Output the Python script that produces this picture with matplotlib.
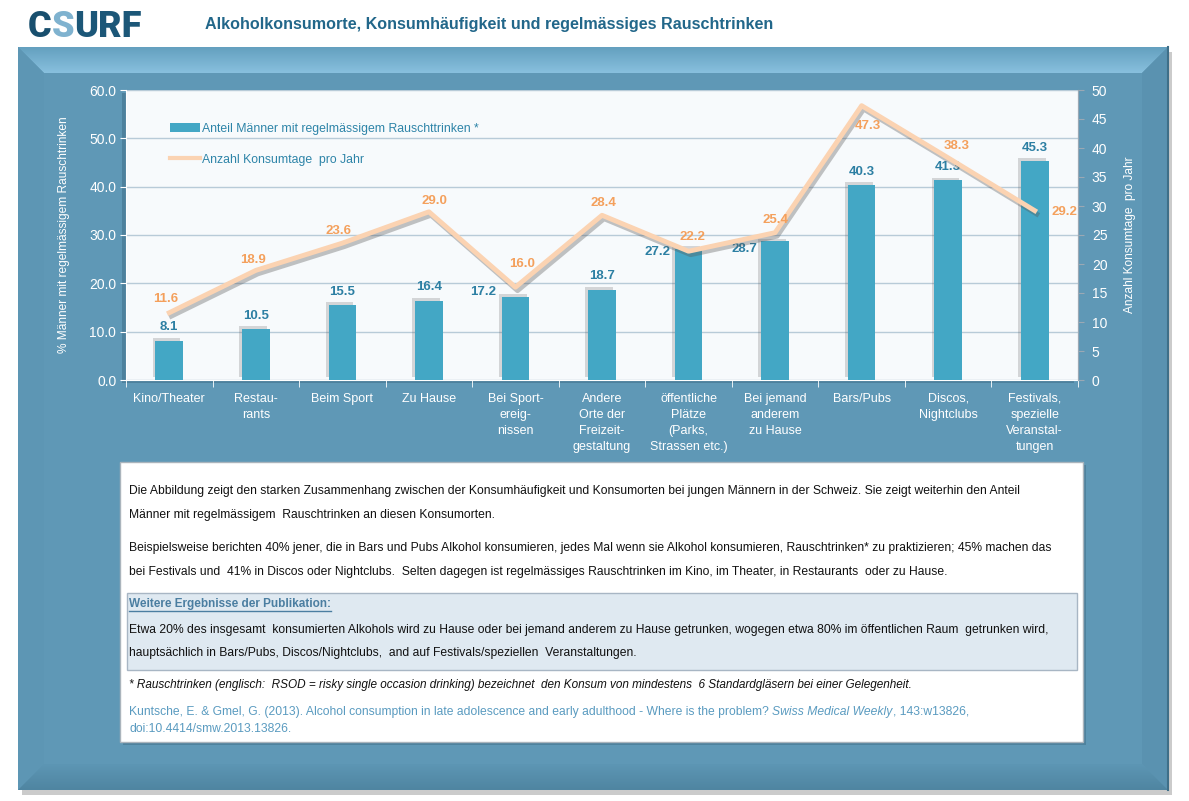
import matplotlib
matplotlib.use('Agg')
import matplotlib.pyplot as plt
import matplotlib.patheffects as pe
from matplotlib.patches import Rectangle, Polygon, Patch
from matplotlib.lines import Line2D
import numpy as np

# data
categories = ['Kino/Theater', 'Restau-\nrants', 'Beim Sport', 'Zu Hause',
              'Bei Sport-\nereig-\nnissen', 'Andere\nOrte der\nFreizeit-\ngestaltung',
              'öffentliche\nPlätze\n(Parks,\nStrassen etc.)', 'Bei jemand\nanderem\nzu Hause',
              'Bars/Pubs', 'Discos,\nNightclubs', 'Festivals,\nspezielle\nVeranstal-\ntungen']
rsod_share = [8.1, 10.5, 15.5, 16.4, 17.2, 18.7, 27.2, 28.7, 40.3, 41.3, 45.3]
days_per_year = [11.6, 18.9, 23.6, 29.0, 16.0, 28.4, 22.2, 25.4, 47.3, 38.3, 29.2]
left_ticks = [0, 10, 20, 30, 40, 50, 60]
right_ticks = [0, 5, 10, 15, 20, 25, 30, 35, 40, 45, 50]
bar_name = 'Anteil Männer mit regelmässigem Rauschttrinken *'
line_name = 'Anzahl Konsumtage  pro Jahr'

# label offsets in pixels (dx, dy up), alignment
bar_lab_off = [(0, 14, 'center'), (0, 13, 'center'), (0, 13, 'center'), (0, 14, 'center'),
               (-19, 5, 'right'), (0, 14, 'center'), (-18, -3, 'right'), (-18, -8, 'right'),
               (0, 13, 'center'), (0, 13, 'center'), (0, 13, 'center')]
line_lab_off = [(-4, 14), (-3, 10), (-4, 12), (6, 11), (7, 23), (1, 12), (4, 14),
                (0, 13), (6, -20), (8, 12), (30, -1)]

FONT = ['Liberation Sans', 'DejaVu Sans']
plt.rcParams['font.family'] = FONT

W, H = 1189, 801
fig = plt.figure(figsize=(W / 100, H / 100), dpi=100)
fig.patch.set_facecolor('white')

bg = fig.add_axes([0, 0, 1, 1])
bg.set_xlim(0, W)
bg.set_ylim(H, 0)
bg.axis('off')


def frac(x0, y0, x1, y1):
    return [x0 / W, 1 - y1 / H, (x1 - x0) / W, (y1 - y0) / H]


# ── blue bevelled frame ─────────────────────────────────────────
L, T, R, B, bw = 18, 47, 1168, 790, 26
bg.add_patch(Rectangle((L + 4, T + 5), R - L, B - T, fc='#8c8c8c', alpha=0.45, lw=0))
bg.add_patch(Rectangle((L, T), R - L, B - T, fc='#5f98b6', lw=0))
top = Polygon([(L, T), (R, T), (R - bw, T + bw), (L + bw, T + bw)], closed=True, fc='none', lw=0)
bg.add_patch(top)
grad = np.linspace(0, 1, 64).reshape(-1, 1)
im = bg.imshow(grad, extent=(L, R, T + bw, T), cmap=matplotlib.colors.LinearSegmentedColormap.from_list(
    'bev', ['#64a0bf', '#88c0de']), aspect='auto', zorder=1)
im.set_clip_path(top)
bg.add_patch(Polygon([(L, T), (L + bw, T + bw), (L + bw, B - bw), (L, B)], fc='#5d96b4', lw=0, zorder=1))
bg.add_patch(Polygon([(R, T), (R, B), (R - bw, B - bw), (R - bw, T + bw)], fc='#5a92b0', lw=0, zorder=1))
bot = Polygon([(L, B), (L + bw, B - bw), (R - bw, B - bw), (R, B)], fc='none', lw=0)
bg.add_patch(bot)
im2 = bg.imshow(grad, extent=(L, R, B, B - bw), cmap=matplotlib.colors.LinearSegmentedColormap.from_list(
    'bev2', ['#5d96b4', '#4f85a1']), aspect='auto', zorder=1)
im2.set_clip_path(bot)
bg.plot([R, R], [T, B], color='#3f6f88', lw=1.5, zorder=2)

# plot-area shadow
bg.add_patch(Rectangle((122, 93), 952, 290, fc='#3d6c85', alpha=0.5, lw=0, zorder=2))

# ── logo + title ────────────────────────────────────────────────
fig.canvas.draw()
rend = fig.canvas.get_renderer()
inv = bg.transData.inverted()


def runs(x, y, parts, **kw):
    for txt, style in parts:
        st = dict(kw)
        st.update(style)
        t = bg.text(x, y, txt, **st)
        bb = t.get_window_extent(rend)
        x = inv.transform((bb.x1, bb.y0))[0]
    return x


runs(28, 27, [('C', {'color': '#184f6e'}), ('S', {'color': '#7fb2cf'}), ('URF', {'color': '#1c5778'})],
     fontsize=26, fontweight='heavy', family=['Roboto', 'DejaVu Sans'], va='center', zorder=3)
bg.text(205, 25, 'Alkoholkonsumorte, Konsumhäufigkeit und regelmässiges Rauschtrinken',
        fontsize=11.6, fontweight='bold', color='#22678a', va='center')

# ── chart ───────────────────────────────────────────────────────
ax = fig.add_axes(frac(126, 90, 1078, 380))
ax.set_facecolor('#f7fafc')
x = np.arange(len(categories))
bars = ax.bar(x, rsod_share, width=0.32, color='#43a7c5', zorder=3,
              path_effects=[pe.SimplePatchShadow(offset=(-2, 2), shadow_rgbFace='#555555', alpha=0.22),
                            pe.Normal()])
ax.set_xlim(-0.5, len(categories) - 0.5)
ax.set_ylim(0, 60)
ax.set_yticks(left_ticks)
ax.set_yticklabels([f'{v:.1f}' for v in left_ticks])
ax.yaxis.grid(True, color='#b8cbd8', lw=1)
ax.set_axisbelow(True)
ax.set_xticks(x)
ax.set_xticklabels(categories, linespacing=1.45)
ax.set_xticks(np.arange(-0.5, len(categories), 1), minor=True)
ax.tick_params(axis='x', which='major', length=0, pad=9, colors='white', labelsize=9)
ax.tick_params(axis='x', which='minor', length=5, color='white', direction='out')
ax.tick_params(axis='y', length=4, color='white', labelcolor='white', labelsize=10, pad=3)
ax.spines['top'].set_visible(False)
ax.spines['left'].set_color('white')
ax.spines['bottom'].set_color('white')
ax.spines['right'].set_color('#9aa8b4')
ax.set_ylabel('% Männer mit regelmässigem Rauschtrinken', color='white', fontsize=8.6, labelpad=14)

ax2 = ax.twinx()
ax2.set_ylim(0, 50)
ax2.set_yticks(right_ticks)
ax2.tick_params(axis='y', length=4, color='#9aa8b4', labelcolor='white', labelsize=10, pad=6)
for s in ['top', 'left', 'bottom']:
    ax2.spines[s].set_visible(False)
ax2.spines['right'].set_color('#9aa8b4')
ax2.plot(x, days_per_year, color='#fbd3b2', lw=3.5, zorder=4,
         path_effects=[pe.SimpleLineShadow(offset=(1.5, -2.5), shadow_color='#555555', alpha=0.35),
                       pe.Normal()])
ax2.set_ylabel(line_name, color='white', fontsize=8.6, labelpad=12)

px = 0.72  # points per pixel
for xi, v, (dx, dy, ha) in zip(x, rsod_share, bar_lab_off):
    ax.annotate(f'{v:.1f}', (xi, v), xytext=(dx * px, dy * px), textcoords='offset points',
                ha=ha, va='center', fontsize=9.5, fontweight='bold', color='#2c7fa3', zorder=6)
for xi, v, (dx, dy) in zip(x, days_per_year, line_lab_off):
    ax2.annotate(f'{v:.1f}', (xi, v), xytext=(dx * px, dy * px), textcoords='offset points',
                 ha='center', va='center', fontsize=9.5, fontweight='bold', color='#f4a05c', zorder=6)

h_bar = Patch(facecolor='#43a7c5', edgecolor='none')
h_line = Line2D([], [], color='#fbd3b2', lw=3)
leg = ax2.legend([h_bar, h_line], [bar_name, line_name], loc='upper left',
                 bbox_to_anchor=(0.035, 0.925), frameon=False, fontsize=8.8,
                 labelspacing=1.55, handlelength=2.4, handleheight=0.7, handletextpad=0.2)
for t in leg.get_texts():
    t.set_color('#2d84a8')

# ── text box ────────────────────────────────────────────────────
bg.add_patch(Rectangle((123, 465), 963, 280, fc='#3f6e86', alpha=0.5, lw=0, zorder=2))
bg.add_patch(Rectangle((120, 462), 963, 280, fc='white', ec='#aab4bc', lw=1, zorder=3))
bg.add_patch(Rectangle((127, 593), 950, 77, fc='#dfe9f1', ec='#a8b6c4', lw=1, zorder=3))

TX = 129
body = dict(fontsize=8.7, color='#111111', va='center', zorder=4)
bg.text(TX, 491, 'Die Abbildung zeigt den starken Zusammenhang zwischen der Konsumhäufigkeit und Konsumorten '
        'bei jungen Männern in der Schweiz. Sie zeigt weiterhin den Anteil', **body)
bg.text(TX, 515, 'Männer mit regelmässigem  Rauschtrinken an diesen Konsumorten.', **body)
bg.text(TX, 548, 'Beispielsweise berichten 40% jener, die in Bars und Pubs Alkohol konsumieren, jedes Mal wenn '
        'sie Alkohol konsumieren, Rauschtrinken* zu praktizieren; 45% machen das', **body)
bg.text(TX, 572, 'bei Festivals und  41% in Discos oder Nightclubs.  Selten dagegen ist regelmässiges '
        'Rauschtrinken im Kino, im Theater, in Restaurants  oder zu Hause.', **body)

hd = bg.text(TX, 604, 'Weitere Ergebnisse der Publikation:', fontsize=8.5, fontweight='bold',
             color='#4b7ea1', va='center', zorder=4)
bb = hd.get_window_extent(rend)
(hx0, hy0), (hx1, _) = inv.transform([(bb.x0, bb.y0), (bb.x1, bb.y1)])
bg.plot([hx0, hx1], [hy0 + 1, hy0 + 1], color='#4b7ea1', lw=1, zorder=4)

bg.text(TX, 630, 'Etwa 20% des insgesamt  konsumierten Alkohols wird zu Hause oder bei jemand anderem zu Hause '
        'getrunken, wogegen etwa 80% im öffentlichen Raum  getrunken wird,', **body)
bg.text(TX, 653, 'hauptsächlich in Bars/Pubs, Discos/Nightclubs,  and auf Festivals/speziellen  Veranstaltungen.',
        **body)
bg.text(TX, 685, '* Rauschtrinken (englisch:  RSOD = risky single occasion drinking) bezeichnet  den Konsum von '
        'mindestens  6 Standardgläsern bei einer Gelegenheit.', fontstyle='italic',
        **dict(body, fontsize=8.5))

cit = dict(fontsize=8.7, color='#5a9bc0', va='center', zorder=4)
runs(TX, 712, [('Kuntsche, E. & Gmel, G. (2013). Alcohol consumption in late adolescence and early adulthood '
                '- Where is the problem? ', {}),
               ('Swiss Medical Weekly', {'fontstyle': 'italic'}),
               (', 143:w13826,', {})], **cit)
bg.text(TX, 729, 'doi:10.4414/smw.2013.13826.', **cit)

fig.savefig('out.png', dpi=100, facecolor='white')
